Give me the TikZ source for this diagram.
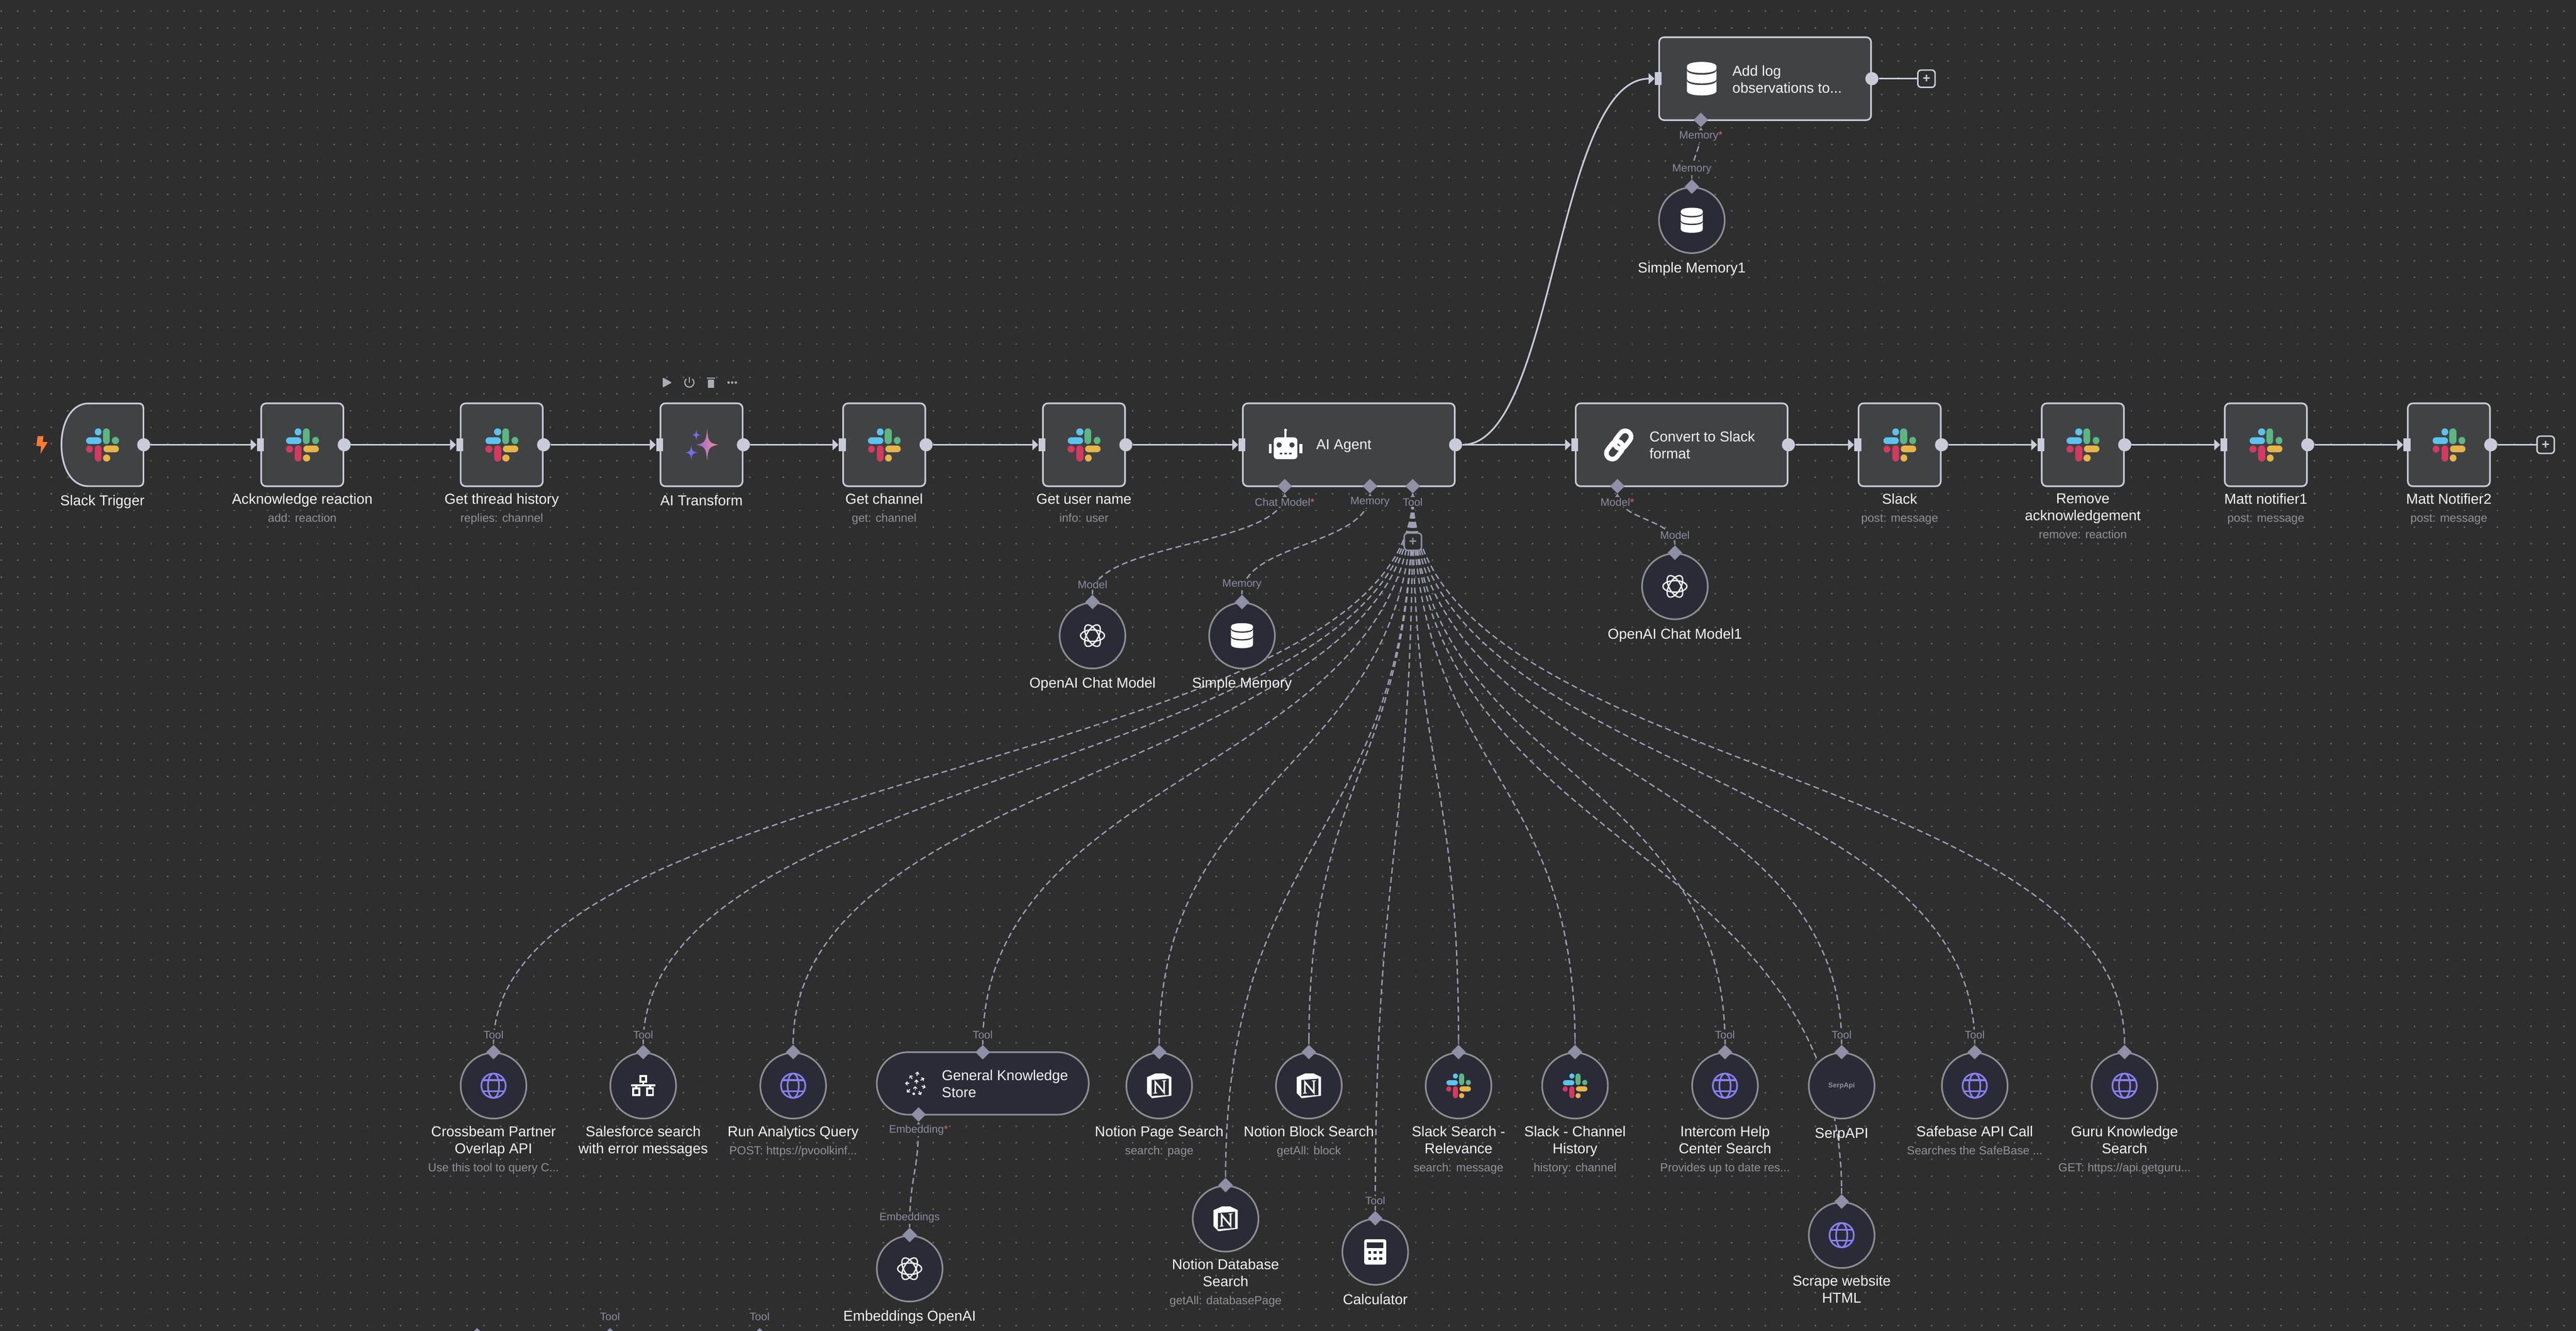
\documentclass[tikz,border=0pt]{standalone}
\usepackage{fontspec}
\setmainfont{Liberation Sans}
\usetikzlibrary{arrows.meta,shapes.geometric,backgrounds}
\definecolor{canvasbg}{HTML}{2E2E2E}
\definecolor{griddot}{HTML}{626262}
\definecolor{boxgray}{HTML}{414244}
\definecolor{portgray}{HTML}{C9CCD8}
\definecolor{roundfill}{HTML}{2B2B38}
\definecolor{roundline}{HTML}{8E8E92}
\definecolor{hubgray}{HTML}{8F90A6}
\definecolor{dashgray}{HTML}{9E9FB4}
\definecolor{namewhite}{HTML}{F4F4F6}
\definecolor{subgray}{HTML}{92929A}
\definecolor{taggray}{HTML}{8C8CA2}
\definecolor{starred}{HTML}{E0606A}
\definecolor{globeblue}{HTML}{8A80F2}
\definecolor{toolgray}{HTML}{ABADB5}
\definecolor{slackblue}{HTML}{5CC3EE}
\definecolor{slackgreen}{HTML}{5DB682}
\definecolor{slackred}{HTML}{D4395F}
\definecolor{slackyellow}{HTML}{E6B547}
\newcommand{\subtxt}[1]{{\color{subgray}\fontsize{7.1}{10.4}\selectfont #1}}
\newcommand{\starpath}{(0,-1) .. controls (.1,-.2) and (.2,-.1) .. (1,0) .. controls (.2,.1) and (.1,.2) .. (0,1) .. controls (-.1,.2) and (-.2,.1) .. (-1,0) .. controls (-.2,-.1) and (-.1,-.2) .. (0,-1) -- cycle}
\tikzset{
    mainbox/.style={rectangle,rounded corners=3,draw=portgray,line width=1,fill=boxgray,minimum width=50,minimum height=50.5,inner sep=0},
    widebox/.style={mainbox,minimum width=129},
    roundbox/.style={circle,draw=roundline,line width=1,fill=roundfill,minimum size=40,inner sep=0},
    pillbox/.style={rectangle,rounded corners=19,draw=roundline,line width=1,fill=roundfill,minimum width=129,minimum height=38,inner sep=0},
    inport/.style={rectangle,fill=portgray,minimum width=4.2,minimum height=8,inner sep=0},
    outport/.style={circle,fill=portgray,minimum size=8,inner sep=0},
    hubport/.style={diamond,aspect=1,fill=hubgray,minimum size=9,inner sep=0},
    plusbox/.style={rectangle,rounded corners=2,draw=portgray,line width=.9,fill=canvasbg,minimum size=10.5,inner sep=0,text=portgray,font=\bfseries\fontsize{8}{8}\selectfont},
    flowline/.style={draw=portgray,line width=1,-{Triangle[length=3.6pt,width=6.5pt]}},
    plainline/.style={draw=portgray,line width=1},
    dashline/.style={draw=dashgray,line width=.8,dash pattern=on 3.6 off 2.1},
    stemline/.style={draw=hubgray,line width=.8},
    griddots/.style={draw=griddot,line width=.9,dash pattern=on .9 off 9.23},
    nametxt/.style={anchor=north,align=center,inner sep=0,text=namewhite,font=\fontsize{8.75}{10.4}\selectfont,execute at begin node=\strut},
    titletxt/.style={anchor=west,align=left,inner sep=0,text=namewhite,font=\fontsize{8.75}{10.3}\selectfont},
    tagtxt/.style={inner sep=.6,fill=canvasbg,text=taggray,font=\fontsize{6.6}{7}\selectfont},
    ringarrow/.style={draw=white,line width=.55,-{Straight Barb[length=1.1pt,width=2.2pt]}},
    pics/slacklogo/.style={code={
        \begin{scope}[scale=#1,line cap=round,line width=4.2*#1]
            \draw[slackblue] (-2.5,-7.9) -- (-2.5,-7.8);
            \draw[slackblue] (-7.8,-2.5) -- (-2.6,-2.5);
            \draw[slackgreen] (2.4,-7.9) -- (2.4,-2.5);
            \draw[slackgreen] (8,-2.7) -- (8,-2.5);
            \draw[slackred] (-7.8,2.6) -- (-7.8,2.7);
            \draw[slackred] (-2.5,2.5) -- (-2.5,8.1);
            \draw[slackyellow] (2.8,2.5) -- (8,2.5);
            \draw[slackyellow] (2.6,8) -- (2.6,8.1);
        \end{scope}
    }},
    pics/dbicon/.style={code={
        \begin{scope}[scale=#1]
            \fill[white] (-6.7,-5.6) .. controls (-6.7,-8.3) and (6.7,-8.3) .. (6.7,-5.6) -- (6.7,-4.6) .. controls (6.7,-1.9) and (-6.7,-1.9) .. (-6.7,-4.6) -- cycle;
            \fill[white] (-6.7,-3.8) .. controls (-6.7,-1.1) and (6.7,-1.1) .. (6.7,-3.8) -- (6.7,.1) .. controls (6.7,2.8) and (-6.7,2.8) .. (-6.7,.1) -- cycle;
            \fill[white] (-6.7,.9) .. controls (-6.7,3.6) and (6.7,3.6) .. (6.7,.9) -- (6.7,5.6) .. controls (6.7,8.3) and (-6.7,8.3) .. (-6.7,5.6) -- cycle;
        \end{scope}
    }},
    toolslack/.pic={\pic {slacklogo=.75};},
    dbsmall/.pic={\pic {dbicon=1};},
    dblarge/.pic={\pic {dbicon=1.34};},
    globe/.pic={
        \draw[globeblue,line width=1] (0,0) circle (7.4);
        \draw[globeblue,line width=1] (0,0) ellipse (3.4 and 7.4);
        \draw[globeblue,line width=1] (-6.6,-3.4) -- (6.6,-3.4);
        \draw[globeblue,line width=1] (-6.6,3.4) -- (6.6,3.4);
    },
    openai/.pic={
        \foreach \rot in {0,60,120}
            \draw[rotate=\rot,draw=white!90!gray,line width=.8] (0,0) ellipse (7.3 and 3.5);
    },
    notion/.pic={
        \fill[white] (-7.4,-5.2) -- (-2.2,-7.5) -- (2.8,-7.5) -- (7.4,-5.3) -- (7.4,6.1) -- (-4.4,7.6) -- (-7.4,4.5) -- cycle;
        \fill[roundfill] (-4.6,-3.5) -- (5.8,-4.3) -- (5.8,5.6) -- (-4.6,6.3) -- cycle;
        \draw[white,line width=1] (-2.4,4.4) -- (-2.4,-2.3) -- (3,4.2) -- (3,-3);
        \draw[white,line width=.5] (-3.6,4.6) -- (-1.2,4.4);
        \draw[white,line width=.5] (1.8,-2.9) -- (4.2,-3.1);
    },
    network/.pic={
        \draw[white,line width=1.2] (-1.7,-6) rectangle (1.7,-2.4);
        \draw[white,line width=1.2] (0,-2.4) -- (0,-.2);
        \draw[white,line width=1.2] (-7.4,-.2) -- (7.4,-.2);
        \draw[white,line width=1.2] (-4.2,-.2) -- (-4.2,1.6);
        \draw[white,line width=1.2] (4.2,-.2) -- (4.2,1.6);
        \draw[white,line width=1.2] (-6,1.6) rectangle (-2.4,5.8);
        \draw[white,line width=1.2] (2.4,1.6) rectangle (6,5.8);
    },
    calcicon/.pic={
        \fill[white,rounded corners=1.2] (-6.7,-7.7) rectangle (6.7,7.7);
        \fill[roundfill] (-5,-5.8) rectangle (5,-2.4);
        \foreach \kx in {-3.4,0,3.4} {
            \fill[roundfill] (\kx-.9,-.4) rectangle (\kx+.9,1.2);
            \fill[roundfill] (\kx-.9,3.2) rectangle (\kx+.9,4.8);
        }
    },
    serplogo/.pic={
        \node[inner sep=0,text=subgray,font=\bfseries\fontsize{4.2}{5}\selectfont] (serp-logo) {SerpApi};
    },
    robot/.pic={
        \draw[white,line width=1.3] (0,-9) -- (0,-5);
        \fill[white] (0,-9.6) circle (.9);
        \fill[white,rounded corners=2] (-7.2,-5.2) rectangle (7.2,8);
        \fill[white] (-10.2,-1.3) rectangle (-8.4,4.5);
        \fill[white] (8.4,-1.3) rectangle (10.2,4.5);
        \fill[boxgray] (-3.9,-.6) circle (1.6);
        \fill[boxgray] (3.9,-.6) circle (1.6);
        \fill[boxgray] (-3.6,4) rectangle (-2,5.1);
        \fill[boxgray] (-.8,4) rectangle (.8,5.1);
        \fill[boxgray] (2,4) rectangle (3.6,5.1);
    },
    chainlink/.pic={
        \begin{scope}[rotate=52]
            \draw[white,line width=2.8,rounded corners=3.6] (-10,-3.6) rectangle (1.9,3.6);
            \draw[white,line width=2.8,rounded corners=3.6] (-1.9,-3.6) rectangle (10,3.6);
        \end{scope}
    },
    sparkle/.pic={
        \begin{scope}[shift={(3.4,0)},xscale=6.7,yscale=9.7]
            \shade[left color=purple!30!blue!60!white,right color=pink!60!red!80!white] \starpath;
        \end{scope}
        \begin{scope}[shift={(-6.2,4.7)},xscale=3.7,yscale=4.6]
            \fill[globeblue!85!blue] \starpath;
        \end{scope}
        \begin{scope}[shift={(-3.2,-6)},xscale=2.6,yscale=3.3]
            \fill[globeblue!85!blue] \starpath;
        \end{scope}
    },
    storering/.pic={
        \foreach \ang/\rad in {-79/6,-125/4.7,-31/5,180/5,22/5.4,133/6.2,65/6.5}
            \draw[ringarrow] (\ang:\rad-1.3) -- (\ang:\rad+1.3);
        \draw[ringarrow] (.6,.2) -- (.6,-2.4);
        \draw[ringarrow] (-.1,4.3) -- (-.1,1.7);
        \fill[white] (-1,6.3) circle (.8);
    },
}
\begin{document}
\begin{tikzpicture}[x=1pt,y=-1pt]
    \useasboundingbox (0,0) rectangle (1568,810.2);
    \node[minimum width=50,minimum height=50.5,inner sep=0] (trigger) at (62.3,270.8) {};
    \draw[draw=portgray,line width=1,fill=boxgray] (84.3,245.6) -- (54,245.6) .. controls (43,245.6) and (37.4,258) .. (37.4,270.8) .. controls (37.4,284) and (43,296) .. (54,296) -- (84.3,296) .. controls (86.3,296) and (87.3,295) .. (87.3,293) -- (87.3,248.6) .. controls (87.3,246.6) and (86.3,245.6) .. (84.3,245.6) -- cycle;
    \pic at (trigger) {slacklogo=1};
    \node[nametxt] (trigger-name) at (62.3,300.4) {Slack Trigger};
    \fill[orange!70!red!80!white] (22.9,265.5) -- (26.5,265.5) -- (26,269) -- (29,269.2) -- (24.6,276.4) -- (25,271.7) -- (22.2,271.5) -- cycle;
    \foreach \n/\x/\txt in {ack/184/{Acknowledge reaction\\[.6pt]\subtxt{add: reaction}},
        thread/305.4/{Get thread history\\[.6pt]\subtxt{replies: channel}},
        channel/538.2/{Get channel\\[.6pt]\subtxt{get: channel}},
        username/659.8/{Get user name\\[.6pt]\subtxt{info: user}},
        slack/1156.3/{Slack\\[.6pt]\subtxt{post: message}},
        remove/1267.8/{Remove\\acknowledgement\\[.6pt]\subtxt{remove: reaction}},
        mattone/1379.2/{Matt notifier1\\[.6pt]\subtxt{post: message}},
        matttwo/1490.6/{Matt Notifier2\\[.6pt]\subtxt{post: message}}} {
        \node[mainbox] (\n) at (\x,270.8) {};
        \pic at (\n) {slacklogo=1};
        \node[nametxt] (\n-name) at (\x,300.4) {\txt};
    }
    \node[mainbox] (transform) at (427,270.8) {};
    \pic at (transform) {sparkle};
    \node[nametxt] (transform-name) at (427,300.4) {AI Transform};
    \node[widebox] (agent) at (821,270.8) {};
    \pic at (782.5,271.5) {robot};
    \node[titletxt] (agent-title) at (801,271.4) {AI Agent};
    \node[widebox] (convert) at (1023.6,270.8) {};
    \pic at (985.3,270.9) {chainlink};
    \node[titletxt] (convert-title) at (1003.8,270.9) {Convert to Slack\\format};
    \node[widebox] (addlog) at (1074.4,47.9) {};
    \pic at (1035.8,47.9) {dblarge};
    \node[titletxt] (addlog-title) at (1054.3,48.2) {Add log\\observations to...};
    \node[pillbox] (general) at (598.2,659.6) {};
    \pic at (557.2,659.6) {storering};
    \node[titletxt] (general-title) at (573.1,659.8) {General Knowledge\\Store};
    \node[hubport] (general-port) at (598.2,640.6) {};
    \foreach \n/\x/\y/\ico/\txt in {cross/300.4/661/globe/{Crossbeam Partner\\Overlap API\\[.6pt]\subtxt{Use this tool to query C...}},
        sales/391.5/661/network/{Salesforce search\\with error messages},
        analytics/482.8/661/globe/{Run Analytics Query\\[.6pt]\subtxt{POST: https://pvoolkinf...}},
        npage/705.6/661/notion/{Notion Page Search\\[.6pt]\subtxt{search: page}},
        nblock/796.7/661/notion/{Notion Block Search\\[.6pt]\subtxt{getAll: block}},
        ssearch/887.8/661/toolslack/{Slack Search -\\Relevance\\[.6pt]\subtxt{search: message}},
        schannel/958.7/661/toolslack/{Slack - Channel\\History\\[.6pt]\subtxt{history: channel}},
        intercom/1050/661/globe/{Intercom Help\\Center Search\\[.6pt]\subtxt{Provides up to date res...}},
        serp/1121/661/serplogo/{SerpAPI},
        safebase/1202/661/globe/{Safebase API Call\\[.6pt]\subtxt{Searches the SafeBase ...}},
        guru/1293.2/661/globe/{Guru Knowledge\\Search\\[.6pt]\subtxt{GET: https://api.getguru...}},
        ndb/746/742/notion/{Notion Database\\Search\\[.6pt]\subtxt{getAll: databasePage}},
        calc/837.1/762.2/calcicon/{Calculator},
        scrape/1121/752/globe/{Scrape website\\HTML},
        chat/665/387/openai/{OpenAI Chat Model},
        memory/756/387/dbsmall/{Simple Memory},
        chatone/1019.5/357/openai/{OpenAI Chat Model1},
        memoryone/1029.8/134.1/dbsmall/{Simple Memory1},
        embed/553.7/772.4/openai/{Embeddings OpenAI}} {
        \node[roundbox] (\n) at (\x,\y) {};
        \pic at (\n) {\ico};
        \node[hubport] (\n-port) at (\n.north) {};
        \node[nametxt] (\n-name) at (\x,\y+24.4) {\txt};
    }
    \foreach \n in {trigger,ack,thread,transform,channel,username,agent,convert,slack,remove,mattone,matttwo,addlog}
        \node[outport] (\n-out) at (\n.east) {};
    \foreach \n in {ack,thread,transform,channel,username,agent,convert,slack,remove,mattone,matttwo,addlog}
        \node[inport] (\n-in) at (\n.west) {};
    \node[plusbox] (endplus) at (1549.5,270.8) {+};
    \node[plusbox] (logplus) at (1172.6,47.9) {+};
    \node[hubport] (agent-chat) at (782,296) {};
    \node[hubport] (agent-mem) at (833.9,296) {};
    \node[hubport] (agent-tool) at (859.9,296) {};
    \node[hubport] (convert-model) at (984.5,296) {};
    \node[hubport] (addlog-mem) at (1035.3,73) {};
    \node[hubport] (general-emb) at (559.1,678.5) {};
    \foreach \n in {agent-chat,agent-mem,agent-tool,convert-model,addlog-mem,general-emb}
        \fill[hubgray] (\n.south) -- ++(2.4,3.2) -- ++(-4.8,0) -- cycle;
    \node[tagtxt] (agent-chat-tag) at (782,305.6) {Chat Model\textcolor{starred}{*}};
    \node[tagtxt] (agent-mem-tag) at (833.9,305.6) {Memory};
    \node[tagtxt] (agent-tool-tag) at (859.9,305.6) {Tool};
    \node[tagtxt] (convert-model-tag) at (984.5,305.6) {Model\textcolor{starred}{*}};
    \node[tagtxt] (addlog-mem-tag) at (1035.3,83) {Memory\textcolor{starred}{*}};
    \node[tagtxt] (general-emb-tag) at (559.1,688.2) {Embedding\textcolor{starred}{*}};
    \foreach \n/\tag in {cross/Tool,sales/Tool,general/Tool,intercom/Tool,serp/Tool,safebase/Tool,calc/Tool,chat/Model,memory/Memory,chatone/Model,memoryone/Memory,embed/Embeddings}
        \node[tagtxt] (\n-tag) at ([yshift=10.6pt]\n-port) {\tag};
    \node[plusbox,draw=hubgray,text=hubgray] (toolplus) at (860,329.8) {+};
    \foreach \n/\x in {lowone/290.4,lowtwo/371.3,lowthree/462.4}
        \node[hubport] (\n-port) at (\x,812.9) {};
    \node[tagtxt] (lowtwo-tag) at (371.3,801.6) {Tool};
    \node[tagtxt] (lowthree-tag) at (462.4,801.6) {Tool};
    \fill[toolgray,rounded corners=.5] (403.4,229.8) -- (409,232.9) -- (403.4,236) -- cycle;
    \draw[toolgray,line width=.7] (419.6,232.9) ++(-50:2.8) arc[start angle=-50,end angle=230,radius=2.8];
    \draw[toolgray,line width=.7] (419.6,229.6) -- (419.6,232.9);
    \fill[toolgray] (430.2,230) rectangle (435.2,230.5);
    \fill[toolgray] (430.8,231) rectangle (434.6,236);
    \foreach \x in {443.5,445.7,447.9}
        \fill[toolgray] (\x,232.9) circle (.75);
    \begin{scope}[on background layer]
        \fill[canvasbg] (0,0) rectangle (1568,810.2);
        \foreach \row in {0,...,79}
            \draw[griddots] (.27,6.87+\row*10.13) -- (1568,6.87+\row*10.13);
        \draw[flowline] (trigger-out) -- (ack-in);
        \draw[flowline] (ack-out) -- (thread-in);
        \draw[flowline] (thread-out) -- (transform-in);
        \draw[flowline] (transform-out) -- (channel-in);
        \draw[flowline] (channel-out) -- (username-in);
        \draw[flowline] (username-out) -- (agent-in);
        \draw[flowline] (agent-out) -- (convert-in);
        \draw[flowline] (agent-out) .. controls +(60,0) and +(-60,0) .. (addlog-in.west);
        \draw[flowline] (convert-out) -- (slack-in);
        \draw[flowline] (slack-out) -- (remove-in);
        \draw[flowline] (remove-out) -- (mattone-in);
        \draw[flowline] (mattone-out) -- (matttwo-in);
        \draw[plainline] (matttwo-out) -- (endplus);
        \draw[plainline] (addlog-out) -- (logplus);
        \foreach \n/\k in {cross/168,sales/168,analytics/168,general/168,npage/168,nblock/168,ssearch/168,schannel/168,intercom/168,serp/168,safebase/168,guru/168,ndb/211,calc/221,scrape/216}
            \draw[dashline] (agent-tool.south) .. controls +(0,\k) and +(0,-\k) .. (\n-port.north);
        \draw[dashline] (agent-chat.south) .. controls +(0,31) and +(0,-31) .. (chat-port.north);
        \draw[dashline] (agent-mem.south) .. controls +(0,31) and +(0,-31) .. (memory-port.north);
        \draw[dashline] (convert-model.south) .. controls +(0,16) and +(0,-16) .. (chatone-port.north);
        \draw[dashline] (addlog-mem.south) .. controls +(0,16) and +(0,-16) .. (memoryone-port.north);
        \draw[dashline] (general-emb.south) .. controls +(0,32) and +(0,-32) .. (embed-port.north);
        \foreach \n in {cross,sales,analytics,general,npage,nblock,ssearch,schannel,intercom,serp,safebase,guru,ndb,calc,scrape,chat,memory,chatone,memoryone,embed} {
            \coordinate (\n-stem) at ([yshift=8.5pt]\n-port);
            \draw[stemline] (\n-stem) -- (\n-port.north);
        }
    \end{scope}
\end{tikzpicture}
\end{document}
